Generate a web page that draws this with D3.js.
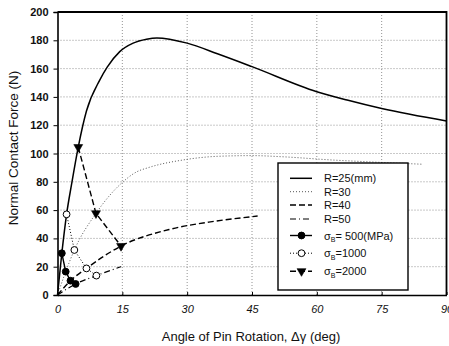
<!DOCTYPE html>
<html>
<head>
<meta charset="utf-8">
<script src="https://cdn.jsdelivr.net/npm/d3@7"></script>
<style>
  body { margin: 0; background: #fff; }
  svg { font-family: "Liberation Sans", Arial, sans-serif; }
  .grid line { stroke: #777; stroke-width: 0.8; stroke-dasharray: 1,2; }
</style>
</head>
<body>
<div id="plot"></div>
<script>
const CANVAS_WIDTH  = 449;
const CANVAS_HEIGHT = 346;

const PLOT_LEFT   = 57.5;
const PLOT_RIGHT  = 446.5;
const PLOT_TOP    = 12;
const PLOT_BOTTOM = 295;

// tick labels
const X_TICKS = [0, 15, 30, 45, 60, 75, 90];
const Y_TICKS = [0, 20, 40, 60, 80, 100, 120, 140, 160, 180, 200];

// R curves (angle in deg, force in N)
const R25_ANGLE = [0, 1.0, 2.1, 3.3, 4.8, 6.7, 9.8, 11.5, 14.4, 17.5, 20.6, 23, 30, 37, 45, 60, 67, 75, 90];
const R25_FORCE = [0, 29.5, 57, 79, 104.5, 130, 152, 161, 172, 178, 180.8, 181.7, 178, 170.5, 161.4, 143.7, 137.8, 131.8, 123];

const R30_ANGLE = [0, 1.9, 3.9, 8.9, 14.8, 18.3, 21, 29, 37, 45, 52, 63.6, 71.4, 84.5];
const R30_FORCE = [0, 16.5, 31.8, 57.7, 79, 87, 90, 95.4, 98, 98.5, 97.7, 95.4, 94.2, 92.4];

const R40_ANGLE = [0, 3.0, 6.7, 14.7, 26, 35, 44.8, 46.3];
const R40_FORCE = [0, 10.1, 18.8, 34.6, 46.4, 51.5, 55.3, 55.8];

const R50_ANGLE = [0, 4.2, 9.0, 14.7];
const R50_FORCE = [0, 7.8, 13.7, 20];

// sigma_B markers
const S500_ANGLE  = [1.0, 1.9, 3.0, 4.2];
const S500_FORCE  = [29.5, 16.5, 10.1, 7.8];
const S1000_ANGLE = [2.1, 3.9, 6.7, 9.0];
const S1000_FORCE = [57, 31.8, 18.8, 13.7];
const S2000_ANGLE = [4.8, 8.9, 14.7];
const S2000_FORCE = [104.5, 57.7, 34.6];

const LEGEND_LABELS = ["R=25(mm)", "R=30", "R=40", "R=50", "500(MPa)", "=1000", "=2000"];

function zip(xs, ys) { return xs.map((x, i) => [x, ys[i]]); }

var svg = d3.select("#plot")
            .append("svg")
            .attr("width", CANVAS_WIDTH)
            .attr("height", CANVAS_HEIGHT);

var xScale = d3.scaleLinear().domain([0, 90]).range([PLOT_LEFT, PLOT_RIGHT]);
var yScale = d3.scaleLinear().domain([0, 200]).range([PLOT_BOTTOM, PLOT_TOP]);

// gridlines
var grid = svg.append("g").attr("class", "grid");
grid.selectAll(".gx").data(X_TICKS.slice(1, -1)).enter().append("line")
    .attr("x1", d => xScale(d)).attr("x2", d => xScale(d))
    .attr("y1", PLOT_TOP).attr("y2", PLOT_BOTTOM);
grid.selectAll(".gy").data(Y_TICKS.slice(1, -1)).enter().append("line")
    .attr("y1", d => yScale(d)).attr("y2", d => yScale(d))
    .attr("x1", PLOT_LEFT).attr("x2", PLOT_RIGHT);

// axes
var yAxis = svg.append("g")
   .attr("transform", "translate(" + PLOT_LEFT + ",0)")
   .call(d3.axisLeft(yScale).tickValues(Y_TICKS).tickSize(4).tickPadding(5));
yAxis.select(".domain").attr("stroke-width", 1.6);
yAxis.selectAll("text").attr("font-size", "11px").attr("font-weight", "bold")
     .attr("fill", "#111").attr("font-family", "Liberation Sans, Arial, sans-serif");

var xAxis = svg.append("g")
   .attr("transform", "translate(0," + PLOT_BOTTOM + ")")
   .call(d3.axisBottom(xScale).tickValues(X_TICKS).tickSizeInner(-3).tickSizeOuter(0).tickPadding(10));
xAxis.select(".domain").attr("stroke-width", 1.6);
xAxis.selectAll("text").attr("font-size", "11px").attr("font-style", "italic")
     .attr("fill", "#111").attr("font-family", "Liberation Sans, Arial, sans-serif");

// top and right frame
svg.append("path")
   .attr("d", "M" + PLOT_LEFT + "," + PLOT_TOP + "H" + PLOT_RIGHT + "V" + PLOT_BOTTOM)
   .attr("fill", "none").attr("stroke", "#000").attr("stroke-width", 1.8);

// curves
var line = d3.line().x(d => xScale(d[0])).y(d => yScale(d[1])).curve(d3.curveMonotoneX);
var straight = d3.line().x(d => xScale(d[0])).y(d => yScale(d[1]));

const R_STYLES = [
    {dash: null,      width: 1.5, color: "#000"},
    {dash: "1,2",     width: 1.0, color: "#555"},
    {dash: "6,3",     width: 1.4, color: "#000"},
    {dash: "6,3,1,3", width: 1.2, color: "#000"}
];
var rSeries = [zip(R25_ANGLE, R25_FORCE), zip(R30_ANGLE, R30_FORCE),
               zip(R40_ANGLE, R40_FORCE), zip(R50_ANGLE, R50_FORCE)];

rSeries.forEach(function(s, i) {
    svg.append("path")
       .attr("d", line(s))
       .attr("fill", "none")
       .attr("stroke", R_STYLES[i].color)
       .attr("stroke-width", R_STYLES[i].width)
       .attr("stroke-dasharray", R_STYLES[i].dash);
});

// sigma connecting lines + markers
var tri = d3.symbol().type(d3.symbolTriangle).size(34);
const S_STYLES = [
    {dash: null,  width: 1.4, fill: "#000", shape: "circle"},
    {dash: "1,2", width: 1.0, fill: "#fff", shape: "circle"},
    {dash: "6,3", width: 1.4, fill: "#000", shape: "tri"}
];
var sSeries = [zip(S500_ANGLE, S500_FORCE), zip(S1000_ANGLE, S1000_FORCE), zip(S2000_ANGLE, S2000_FORCE)];

function drawMarker(g, cx, cy, st) {
    if (st.shape == "circle") {
        g.append("circle").attr("cx", cx).attr("cy", cy).attr("r", 3.4)
         .attr("fill", st.fill).attr("stroke", "#000").attr("stroke-width", 1);
    } else {
        g.append("path").attr("d", tri)
         .attr("transform", "translate(" + cx + "," + cy + ") rotate(180)")
         .attr("fill", st.fill).attr("stroke", "#000").attr("stroke-width", 0.6);
    }
}

sSeries.forEach(function(s, i) {
    svg.append("path")
       .attr("d", straight(s))
       .attr("fill", "none")
       .attr("stroke", "#000")
       .attr("stroke-width", S_STYLES[i].width)
       .attr("stroke-dasharray", S_STYLES[i].dash);
    s.forEach(function(p) { drawMarker(svg, xScale(p[0]), yScale(p[1]), S_STYLES[i]); });
});

// legend
var legend = svg.append("g");
legend.append("rect")
      .attr("x", 278).attr("y", 163).attr("width", 130).attr("height", 127)
      .attr("fill", "#fff").attr("stroke", "#000").attr("stroke-width", 1.4);

var rowY = [178.3, 191.7, 205, 219, 235.5, 253.2, 271.2];
for (var k = 0; k < 7; k++) {
    var yy = rowY[k];
    var st = k < 4 ? R_STYLES[k] : S_STYLES[k - 4];
    legend.append("line")
          .attr("x1", 290).attr("x2", 312).attr("y1", yy).attr("y2", yy)
          .attr("stroke", st.color || "#000")
          .attr("stroke-width", st.width)
          .attr("stroke-dasharray", st.dash);
    if (k >= 4) drawMarker(legend, 301.5, yy, st);
    var t = legend.append("text")
          .attr("x", 324).attr("y", yy + 4)
          .attr("font-size", "11px").attr("fill", "#111");
    if (k < 4) {
        t.text(LEGEND_LABELS[k]);
    } else {
        t.append("tspan").text("\u03c3");
        t.append("tspan").attr("font-size", "7px").attr("dy", 2.5).text("B");
        t.append("tspan").attr("dy", -2.5).text(k == 4 ? "=  " + LEGEND_LABELS[k] : LEGEND_LABELS[k]);
    }
}

// axis titles
svg.append("text")
   .attr("x", 251).attr("y", 341)
   .attr("text-anchor", "middle")
   .attr("font-size", "13px").attr("fill", "#111")
   .text("Angle of Pin Rotation, \u0394\u03b3 (deg)");

svg.append("text")
   .attr("transform", "translate(18,148) rotate(-90)")
   .attr("text-anchor", "middle")
   .attr("font-size", "13.5px").attr("fill", "#111")
   .text("Normal Contact Force (N)");
</script>
</body>
</html>
